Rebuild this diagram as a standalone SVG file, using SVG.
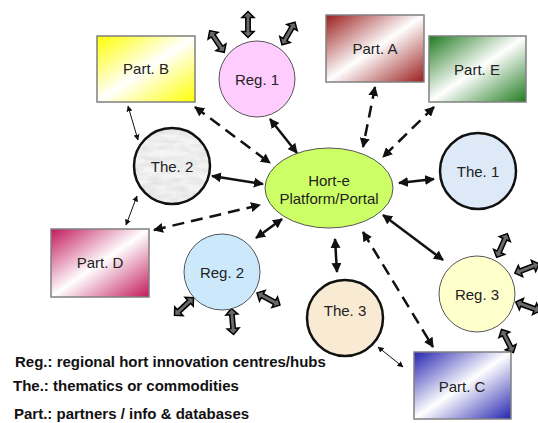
<svg xmlns="http://www.w3.org/2000/svg" xmlns:xlink="http://www.w3.org/1999/xlink" width="538" height="423" viewBox="0 0 538 423">
<style>
  text { font-family: "Liberation Sans", Arial, sans-serif; fill: #222; }
  .lbl { font-size: 15px; text-anchor: middle; }
  .leg { font-size: 15px; font-weight: bold; fill: #111; }
  .box { stroke: #808080; stroke-width: 1.5; }
  .reg { stroke: #555; stroke-width: 1; }
  .the { stroke: #111; stroke-width: 2.5; }
  .solid { stroke: #111; stroke-width: 2.5; fill: none; marker-start: url(#ah); marker-end: url(#ah); }
  .dash { stroke: #111; stroke-width: 2.5; fill: none; stroke-dasharray: 12 7; marker-start: url(#ah); marker-end: url(#ah); }
  .thin { stroke: #111; stroke-width: 1; fill: none; marker-start: url(#ahs); marker-end: url(#ahs); }
  .blk { fill: #6a6a6a; stroke: #000; stroke-width: 1.5; stroke-linejoin: miter; }
</style>
<defs>
  <marker id="ah" viewBox="0 0 10 10" refX="9" refY="5" markerWidth="10" markerHeight="10" markerUnits="userSpaceOnUse" orient="auto-start-reverse">
    <path d="M0,0 L10,5 L0,10 z" fill="#111"/>
  </marker>
  <marker id="ahs" viewBox="0 0 10 10" refX="9" refY="5" markerWidth="6" markerHeight="6" markerUnits="userSpaceOnUse" orient="auto-start-reverse">
    <path d="M0,0 L10,5 L0,10 z" fill="#111"/>
  </marker>
  <linearGradient id="gB" x1="0" y1="0" x2="1" y2="1"><stop offset="0" stop-color="#ffff00"/><stop offset="0.5" stop-color="#ffffff"/><stop offset="1" stop-color="#ffff00"/></linearGradient>
  <linearGradient id="gA" x1="0" y1="0" x2="1" y2="1"><stop offset="0" stop-color="#9a1c1c"/><stop offset="0.5" stop-color="#ffffff"/><stop offset="1" stop-color="#9a1c1c"/></linearGradient>
  <linearGradient id="gE" x1="0" y1="0" x2="1" y2="1"><stop offset="0" stop-color="#1f7a1f"/><stop offset="0.5" stop-color="#ffffff"/><stop offset="1" stop-color="#1f7a1f"/></linearGradient>
  <linearGradient id="gD" x1="0" y1="0" x2="1" y2="1"><stop offset="0" stop-color="#c2185b"/><stop offset="0.5" stop-color="#ffffff"/><stop offset="1" stop-color="#c2185b"/></linearGradient>
  <linearGradient id="gC" x1="0" y1="0" x2="1" y2="1"><stop offset="0" stop-color="#2424b0"/><stop offset="0.5" stop-color="#ffffff"/><stop offset="1" stop-color="#2424b0"/></linearGradient>
  <filter id="marble" x="0" y="0" width="1" height="1">
    <feTurbulence type="fractalNoise" baseFrequency="0.05 0.14" numOctaves="3" seed="4"/>
    <feColorMatrix type="matrix" values="0 0 0 0 0.7  0 0 0 0 0.7  0 0 0 0 0.7  0 0 0 -1.6 1.05"/>
  </filter>
  <filter id="speckB" x="0" y="0" width="1" height="1">
    <feTurbulence type="fractalNoise" baseFrequency="0.3" numOctaves="2" seed="2"/>
    <feColorMatrix type="matrix" values="0 0 0 0 0.75  0 0 0 0 0.85  0 0 0 0 0.95  0 0 0 -1.5 1.0"/>
  </filter>
  <clipPath id="c2"><circle cx="172" cy="166" r="38"/></clipPath>
  <clipPath id="c1"><circle cx="478" cy="171" r="38"/></clipPath>
  <path id="dblk" d="M-13,0 L-7,-6 L-7,-2.2 L7,-2.2 L7,-6 L13,0 L7,6 L7,2.2 L-7,2.2 L-7,6 z"/>
</defs>

<g id="connectors">
  <line class="solid" x1="270" y1="119" x2="297" y2="153"/>
  <line class="solid" x1="212" y1="176" x2="263" y2="184"/>
  <line class="solid" x1="256" y1="238" x2="282" y2="219"/>
  <line class="solid" x1="399" y1="183" x2="434" y2="179"/>
  <line class="solid" x1="335" y1="239" x2="337" y2="272"/>
  <line class="solid" x1="383" y1="215" x2="443" y2="260"/>
  <line class="dash" x1="195" y1="107" x2="270" y2="163"/>
  <line class="dash" x1="154" y1="230" x2="260" y2="205"/>
  <line class="dash" x1="375" y1="87" x2="363" y2="147"/>
  <line class="dash" x1="434" y1="107" x2="383" y2="157"/>
  <line class="dash" x1="363" y1="232" x2="433" y2="347"/>
  <line class="thin" x1="128" y1="106" x2="138" y2="140"/>
  <line class="thin" x1="137" y1="196" x2="126" y2="225"/>
  <line class="thin" x1="378" y1="347" x2="403" y2="367"/>
  <use href="#dblk" class="blk" transform="translate(217,41.5) rotate(56)"/>
  <use href="#dblk" class="blk" transform="translate(248,24.5) rotate(90)"/>
  <use href="#dblk" class="blk" transform="translate(288.5,33.5) rotate(-60)"/>
  <use href="#dblk" class="blk" transform="translate(184,306.5) rotate(-43)"/>
  <use href="#dblk" class="blk" transform="translate(232.5,321.5) rotate(85)"/>
  <use href="#dblk" class="blk" transform="translate(268.5,299) rotate(28)"/>
  <use href="#dblk" class="blk" transform="translate(502,245.5) rotate(-66)"/>
  <use href="#dblk" class="blk" transform="translate(527,268.5) rotate(-21)"/>
  <use href="#dblk" class="blk" transform="translate(528,306.5) rotate(20)"/>
  <use href="#dblk" class="blk" transform="translate(507.5,341) rotate(63)"/>
</g>

<g id="hort-e">
  <ellipse cx="329" cy="188" rx="64" ry="40" fill="#ccff66" stroke="#555" stroke-width="1"/>
  <text class="lbl" x="329" y="186">Hort-e</text>
  <text class="lbl" x="329" y="204">Platform/Portal</text>
</g>

<g id="reg1">
  <circle class="reg" cx="257" cy="79" r="38" fill="#ffccff"/>
  <text class="lbl" x="257" y="85">Reg. 1</text>
</g>
<g id="reg2">
  <circle class="reg" cx="222" cy="272" r="38" fill="#cce9fb"/>
  <text class="lbl" x="222" y="278">Reg. 2</text>
</g>
<g id="reg3">
  <circle class="reg" cx="477" cy="294" r="38" fill="#ffffcc"/>
  <text class="lbl" x="477" y="300">Reg. 3</text>
</g>

<g id="the2">
  <circle cx="172" cy="166" r="38" fill="#f4f4f4"/>
  <rect x="134" y="128" width="76" height="76" filter="url(#marble)" clip-path="url(#c2)"/>
  <circle class="the" cx="172" cy="166" r="38" fill="none"/>
  <text class="lbl" x="172" y="172">The. 2</text>
</g>
<g id="the1">
  <circle cx="478" cy="171" r="38" fill="#dde9f7"/>
  <rect x="440" y="133" width="76" height="76" filter="url(#speckB)" clip-path="url(#c1)" opacity="0.5"/>
  <circle class="the" cx="478" cy="171" r="38" fill="none"/>
  <text class="lbl" x="478" y="177">The. 1</text>
</g>
<g id="the3">
  <circle class="the" cx="345" cy="318" r="38" fill="#f9ead4"/>
  <text class="lbl" x="345" y="316">The. 3</text>
</g>

<g id="partA">
  <rect class="box" x="326" y="15" width="98" height="67" fill="url(#gA)"/>
  <text class="lbl" x="375" y="54">Part. A</text>
</g>
<g id="partB">
  <rect class="box" x="97" y="36" width="98" height="66" fill="url(#gB)"/>
  <text class="lbl" x="146" y="74">Part. B</text>
</g>
<g id="partE">
  <rect class="box" x="429" y="36" width="97" height="66" fill="url(#gE)"/>
  <text class="lbl" x="477" y="75">Part. E</text>
</g>
<g id="partD">
  <rect class="box" x="51" y="229" width="98" height="68" fill="url(#gD)"/>
  <text class="lbl" x="100" y="268">Part. D</text>
</g>
<g id="partC">
  <rect class="box" x="414" y="352" width="97" height="67" fill="url(#gC)"/>
  <text class="lbl" x="462" y="392">Part. C</text>
</g>

<g id="legend">
  <text class="leg" x="15" y="367">Reg.: regional hort innovation centres/hubs</text>
  <text class="leg" x="13" y="391">The.: thematics or commodities</text>
  <text class="leg" x="14" y="419">Part.: partners / info &amp; databases</text>
</g>
</svg>
